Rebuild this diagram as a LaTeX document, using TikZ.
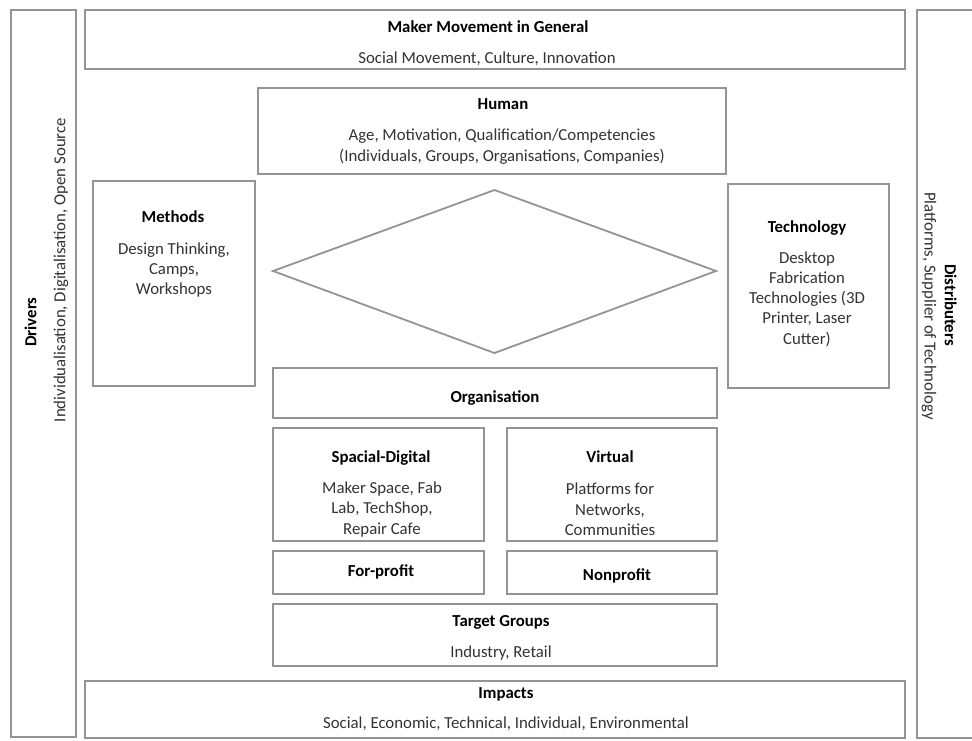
\documentclass[tikz,border=0pt]{standalone}
\usepackage{fontspec}
\setmainfont{Carlito}
\usetikzlibrary{shadows}
\begin{document}
\begin{tikzpicture}[x=1pt,y=-1pt,
  box/.style={draw=black!42, line width=2.3pt, fill=white, inner sep=0pt, anchor=north west,
    drop shadow={shadow xshift=0.8pt, shadow yshift=-0.8pt, opacity=0.25}},
  dia/.style={draw=black!42, line width=1.8pt, line join=miter},
  ttl/.style={font=\fontsize{16.8}{20.3}\selectfont\bfseries, text=black, inner sep=0pt,
    text height=11.5pt, text depth=3pt},
  bdy/.style={font=\fontsize{16.8}{20.3}\selectfont, text=black!80, align=center, inner sep=0pt},
]
\clip (0,0) rectangle (972,740);
\useasboundingbox (0,0) rectangle (972,740);

% frames
\node[box, minimum width=65pt,  minimum height=727pt] (drivers)   at (10,9) {};
\node[box, minimum width=820pt, minimum height=59pt]  (maker)     at (84,9) {};
\node[box, minimum width=75pt,  minimum height=728pt] (distrib)   at (916,9) {};
\node[box, minimum width=468pt, minimum height=86pt]  (human)     at (257,87) {};
\node[box, minimum width=162pt, minimum height=205pt] (methods)   at (92,180) {};
\node[box, minimum width=161pt, minimum height=204pt] (tech)      at (727,183) {};
\node[box, minimum width=444pt, minimum height=50pt]  (org)       at (272,367) {};
\node[box, minimum width=211pt, minimum height=113pt] (spacial)   at (272,427) {};
\node[box, minimum width=210pt, minimum height=113pt] (virtual)   at (506,427) {};
\node[box, minimum width=211pt, minimum height=43pt]  (forprofit) at (272,550) {};
\node[box, minimum width=210pt, minimum height=43pt]  (nonprofit) at (506,550) {};
\node[box, minimum width=444pt, minimum height=62pt]  (target)    at (272,603) {};
\node[box, minimum width=820pt, minimum height=57pt]  (impacts)   at (84,680) {};

% central diamond
\coordinate (dl) at (273,271);
\coordinate (dt) at (494.5,190);
\coordinate (dr) at (716,271);
\coordinate (db) at (494.5,353);
\draw[dia] (dl) -- (dt) -- (dr) -- (db) -- cycle;

% texts
\node[ttl] (makerT) at (488,28) {Maker Movement in General};
\node[bdy] (makerB) at (487,59) {Social Movement, Culture, Innovation};

\node[ttl] (humanT) at (503,105) {Human};
\node[bdy] (humanB) at (502,146.5) {Age, Motivation, Qualification/Competencies\\(Individuals, Groups, Organisations, Companies)};

\node[ttl] (methodsT) at (173,218) {Methods};
\node[bdy] (methodsB) at (174,270) {Design Thinking,\\Camps,\\Workshops};

\node[ttl] (techT) at (807,228) {Technology};
\node[bdy] (techB) at (807,299) {Desktop\\Fabrication\\Technologies (3D\\Printer, Laser\\Cutter)};

\node[ttl] (orgT) at (495,398) {Organisation};

\node[ttl] (spacialT) at (381,458) {Spacial-Digital};
\node[bdy] (spacialB) at (382,509.5) {Maker Space, Fab\\Lab, TechShop,\\Repair Cafe};

\node[ttl] (virtualT) at (610,458) {Virtual};
\node[bdy] (virtualB) at (610,509.5) {Platforms for\\Networks,\\Communities};

\node[ttl] (forprofitT) at (381,572) {For-profit};
\node[ttl] (nonprofitT) at (617,576) {Nonprofit};

\node[ttl] (targetT) at (501,622) {Target Groups};
\node[bdy] (targetB) at (501,653) {Industry, Retail};

\node[ttl] (impactsT) at (506,694) {Impacts};
\node[bdy] (impactsB) at (506,724) {Social, Economic, Technical, Individual, Environmental};

\node[ttl, rotate=90] (driversT) at (32,322) {Drivers};
\node[bdy, rotate=90] (driversB) at (61,270) {Individualisation, Digitalisation, Open Source};

\node[ttl, rotate=-90] (distribT) at (949,305) {Distributers};
\node[bdy, rotate=-90] (distribB) at (929,306) {Platforms, Supplier of Technology};
\end{tikzpicture}
\end{document}
